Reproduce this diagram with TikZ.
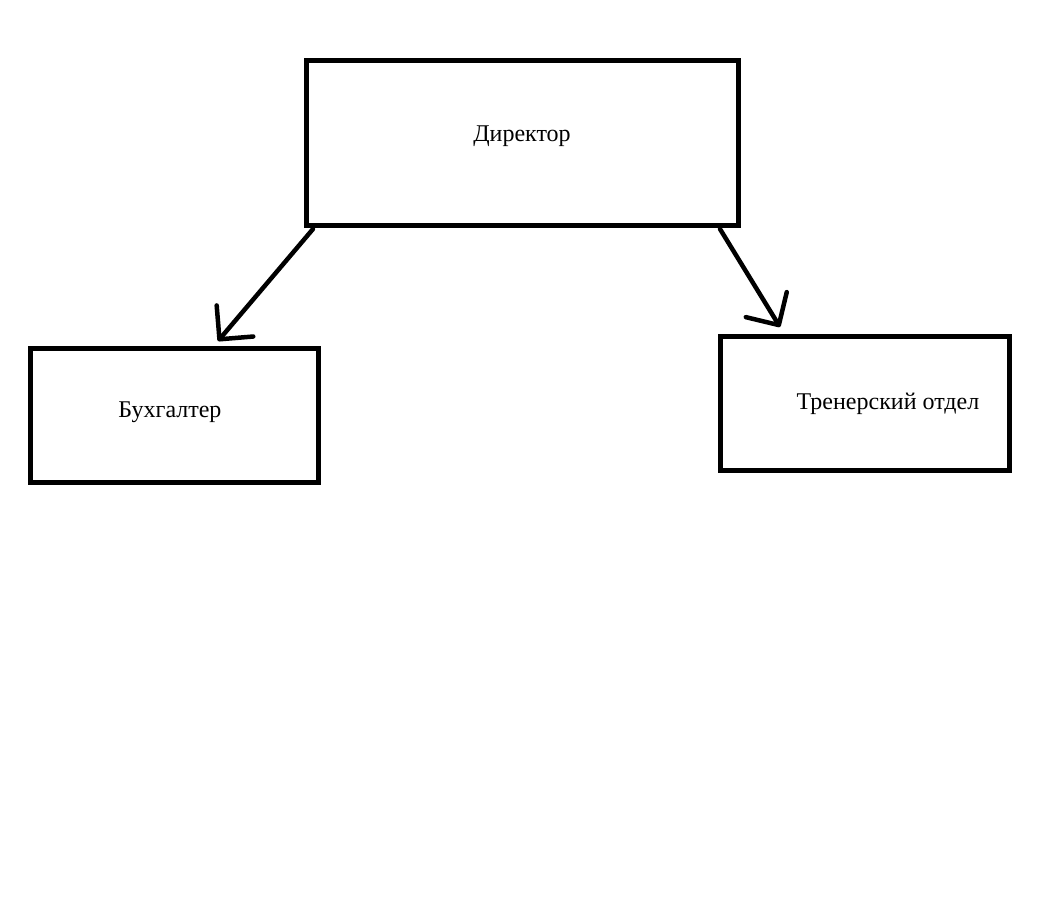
\documentclass[tikz,border=0pt]{standalone}
\usepackage{fontspec}
\setmainfont{Liberation Serif}
\usetikzlibrary{arrows.meta}
\begin{document}
\begin{tikzpicture}[x=1pt,y=-1pt,
  box/.style={draw=black,line width=5pt,minimum width=#1,inner sep=0pt},
  lbl/.style={font=\fontsize{24}{28}\selectfont,inner sep=0pt},
  link/.style={line width=4.5pt,line cap=round,
    -{Straight Barb[length=24pt,width=48pt,line width=4.5pt,round]}}]
  \useasboundingbox (0,0) rectangle (1064,908);
  \fill[white] (0,0) rectangle (1064,908);
  % boxes
  \node[box=432pt,minimum height=165pt] (dir) at (522,142.5) {};
  \node[box=288pt,minimum height=134pt] (buh) at (174,415) {};
  \node[box=289pt,minimum height=134pt] (tren) at (864.5,403) {};
  % captions
  \node[lbl] (dirt) at (522,136) {Директор};
  \node[lbl] (buht) at (170,412) {Бухгалтер};
  \node[lbl] (trent) at (888,404) {Тренерский отдел};
  % arrow end points
  \coordinate (a1) at (313,229);
  \coordinate (b1) at (218,341);
  \coordinate (a2) at (720,229);
  \coordinate (b2) at (780,327);
  \draw[link] (a1) -- (b1);
  \draw[link] (a2) -- (b2);
\end{tikzpicture}
\end{document}
